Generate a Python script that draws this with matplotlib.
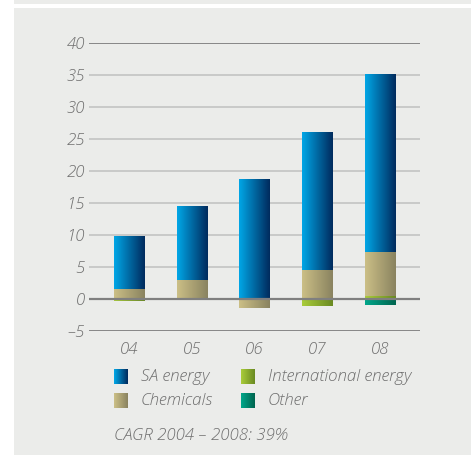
import numpy as np
import matplotlib.pyplot as plt
from matplotlib.patches import Rectangle
from matplotlib.colors import LinearSegmentedColormap

# data
years = ['04', '05', '06', '07', '08']
intl_energy = [-0.3, 0.0, 0.0, -1.1, 0.5]
chemicals = [1.5, 2.9, -1.4, 4.5, 6.8]
sa_energy = [8.3, 11.7, 18.7, 21.6, 27.9]
other = [0.0, 0.0, 0.0, 0.0, -0.9]
yticks = [-5, 0, 5, 10, 15, 20, 25, 30, 35, 40]

grads = {
    'SA energy': ('#00a6e6', '#002b5e'),
    'International energy': ('#a9cc3a', '#6a8a22'),
    'Chemicals': ('#cbbf86', '#8a8360'),
    'Other': ('#00a68a', '#00654f'),
}
BG = '#ebecea'
TXT = '#6e6e6e'
FONT = ['Open Sans', 'DejaVu Sans']
FS = 12.2

fig = plt.figure(figsize=(4.71, 4.55), dpi=100)
fig.patch.set_facecolor('white')
fig.patches.append(Rectangle((14 / 471, 0), 1, 1 - 8 / 455, transform=fig.transFigure,
                             facecolor=BG, edgecolor='none', zorder=-10))
fig.patches.append(Rectangle((14 / 471, 1 - 3.5 / 455), 1, 3.5 / 455, transform=fig.transFigure,
                             facecolor=BG, edgecolor='none', zorder=-10))

ax = fig.add_axes([89 / 471, 1 - 331 / 455, (420 - 89) / 471, 288 / 455])
ax.set_facecolor('none')


def grad_fill(bars, name):
    cmap = LinearSegmentedColormap.from_list(name, grads[name])
    g = np.linspace(0, 1, 64).reshape(1, -1)
    for b in bars:
        if b.get_height() == 0:
            continue
        x0, y0 = b.get_x(), b.get_y()
        x1, y1 = x0 + b.get_width(), y0 + b.get_height()
        im = ax.imshow(g, cmap=cmap, aspect='auto', extent=(x0, x1, min(y0, y1), max(y0, y1)),
                       zorder=3, interpolation='bicubic')
        im.set_clip_path(b)
        b.set_facecolor('none')


x = np.arange(len(years))
w = 0.48
intl = np.array(intl_energy)
chem = np.array(chemicals)
sa = np.array(sa_energy)
oth = np.array(other)

chem_base = np.where(chem > 0, np.clip(intl, 0, None), 0)
sa_base = np.clip(intl, 0, None) + np.clip(chem, 0, None)

b1 = ax.bar(x, intl, w, color='none', edgecolor='none', zorder=3)
grad_fill(b1, 'International energy')
b2 = ax.bar(x, chem, w, bottom=chem_base, color='none', edgecolor='none', zorder=3)
grad_fill(b2, 'Chemicals')
b3 = ax.bar(x, sa, w, bottom=sa_base, color='none', edgecolor='none', zorder=3)
grad_fill(b3, 'SA energy')
b4 = ax.bar(x, oth, w, color='none', edgecolor='none', zorder=3)
grad_fill(b4, 'Other')
ax.set_xlim(-0.635, 4.635)
ax.set_ylim(-5, 40)

for yv in yticks:
    if yv in (0, 40, -5):
        ax.axhline(yv, color='#7f7f7f', lw=1.6 if yv == 0 else 1.3, zorder=4 if yv == 0 else 1)
    else:
        ax.axhline(yv, color='#c6c7c6', lw=1.3, zorder=1)

for s in ax.spines.values():
    s.set_visible(False)
ax.set_yticks(yticks)
ax.set_yticklabels(['\u2013' + '5' if v < 0 else str(v) for v in yticks], family=FONT,
                   style='italic', weight='light', color=TXT, fontsize=FS)
ax.set_xticks(x)
ax.set_xticklabels(years, family=FONT, style='italic', weight='light', color=TXT, fontsize=FS)
ax.tick_params(axis='y', length=0, pad=3)
ax.tick_params(axis='x', length=0, pad=8)

# legend
leg = [('SA energy', 114, 377), ('International energy', 241, 377),
       ('Chemicals', 114, 401), ('Other', 241, 401)]
g = np.linspace(0, 1, 32).reshape(1, -1)
for name, px, py in leg:
    lax = fig.add_axes([px / 471, 1 - (py + 7) / 455, 14 / 471, 15 / 455])
    lax.imshow(g, cmap=LinearSegmentedColormap.from_list(name + 'L', grads[name]), aspect='auto')
    lax.axis('off')
    fig.text((px + 27) / 471, 1 - py / 455, name, family=FONT, style='italic', weight='light',
             color=TXT, fontsize=FS, va='center', ha='left')

fig.text(114 / 471, 1 - 436 / 455, 'CAGR 2004 \u2013 2008: 39%', family=FONT, style='italic',
         weight='light', color=TXT, fontsize=FS, va='center', ha='left')

fig.savefig('out.png', dpi=100, facecolor=fig.get_facecolor())
